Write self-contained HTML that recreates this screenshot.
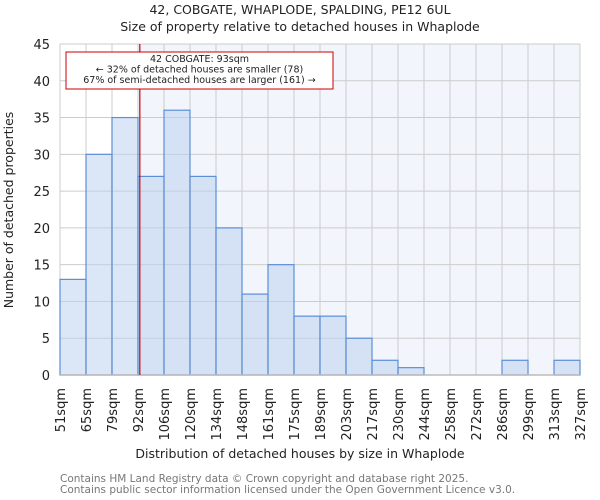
<!DOCTYPE html>
<html><head><meta charset="utf-8"><style>
body{margin:0;background:#fff;}
svg{display:block;font-family:"DejaVu Sans","Liberation Sans",sans-serif;}
</style></head><body>
<svg id="chart" width="600" height="500" xmlns="http://www.w3.org/2000/svg">
<text x="300" y="14" text-anchor="middle" font-size="12.5" fill="#222">42, COBGATE, WHAPLODE, SPALDING, PE12 6UL</text>
<text x="300" y="31" text-anchor="middle" font-size="12.5" fill="#222">Size of property relative to detached houses in Whaplode</text>
<g id="plot"></g>
<text x="300" y="458" text-anchor="middle" font-size="12.5" fill="#222">Distribution of detached houses by size in Whaplode</text>
<text transform="translate(13,210) rotate(-90)" text-anchor="middle" font-size="12.5" fill="#222">Number of detached properties</text>
<text x="60" y="482" font-size="10.5" fill="#777">Contains HM Land Registry data © Crown copyright and database right 2025.</text>
<text x="60" y="493" font-size="10.5" fill="#777">Contains public sector information licensed under the Open Government Licence v3.0.</text>
</svg>
<script>
const binLabels=["51sqm","65sqm","79sqm","92sqm","106sqm","120sqm","134sqm","148sqm","161sqm","175sqm","189sqm","203sqm","217sqm","230sqm","244sqm","258sqm","272sqm","286sqm","299sqm","313sqm","327sqm"];
const counts=[13,30,35,27,36,27,20,11,15,8,8,5,2,1,0,0,0,2,0,2];
const yTicks=[0,5,10,15,20,25,30,35,40,45];
const markerBinPos=3.07;
const NS="http://www.w3.org/2000/svg";
const L=60,R=580,T=44,B=375,yMax=45;
const nb=counts.length;
const bw=(R-L)/nb;
const xs=i=>L+i*bw;
const ys=v=>B-(v/yMax)*(B-T);
const g=document.getElementById('plot');
function mk(t,a){const e=document.createElementNS(NS,t);for(const k in a)e.setAttribute(k,a[k]);g.appendChild(e);return e;}
const mx=xs(markerBinPos);
let e=mk('rect',{x:mx,y:T,width:R-mx,height:B-T,fill:'#f2f5fc'});


yTicks.forEach(t=>{
 let l=mk('line',{x1:L,x2:R,y1:ys(t),y2:ys(t),stroke:'#ccc','stroke-width':1});
 
 
 let tx=mk('text',{x:L-10,y:ys(t)+5,'text-anchor':'end','font-size':13,fill:'#222'});
 tx.textContent=t;
 
 
});
for(let i=0;i<=nb;i++){
 let l=mk('line',{x1:xs(i),x2:xs(i),y1:T,y2:B,stroke:'#ccc','stroke-width':1});
 
 
}
counts.forEach((c,i)=>{
 if(c<=0)return;
 let r=mk('rect',{x:xs(i),y:ys(c),width:bw,height:B-ys(c),fill:'rgba(190,210,238,0.55)',stroke:'#5b8fd6','stroke-width':1.2});
 
 
});
let ax=mk('line',{x1:L,x2:R,y1:B,y2:B,stroke:'#bbb','stroke-width':1.5});


binLabels.forEach((s,i)=>{
 let x=xs(i);
 let t=mk('text',{transform:`translate(${x+5},388) rotate(-90)`,'text-anchor':'end','font-size':13,fill:'#222'});
 t.textContent=s;
 
 
});
let ml=mk('line',{x1:mx,x2:mx,y1:T,y2:B,stroke:'#c00','stroke-width':1.2});


let bx=mk('rect',{x:66,y:52,width:267,height:37,fill:'#fff',stroke:'#c00','stroke-width':1});


["42 COBGATE: 93sqm","← 32% of detached houses are smaller (78)","67% of semi-detached houses are larger (161) →"].forEach((s,i)=>{
 let t=mk('text',{x:199.5,y:62+i*10.5,'text-anchor':'middle','font-size':9.5,fill:'#222'});
 t.textContent=s;
 
 
});
</script>
</body></html>
